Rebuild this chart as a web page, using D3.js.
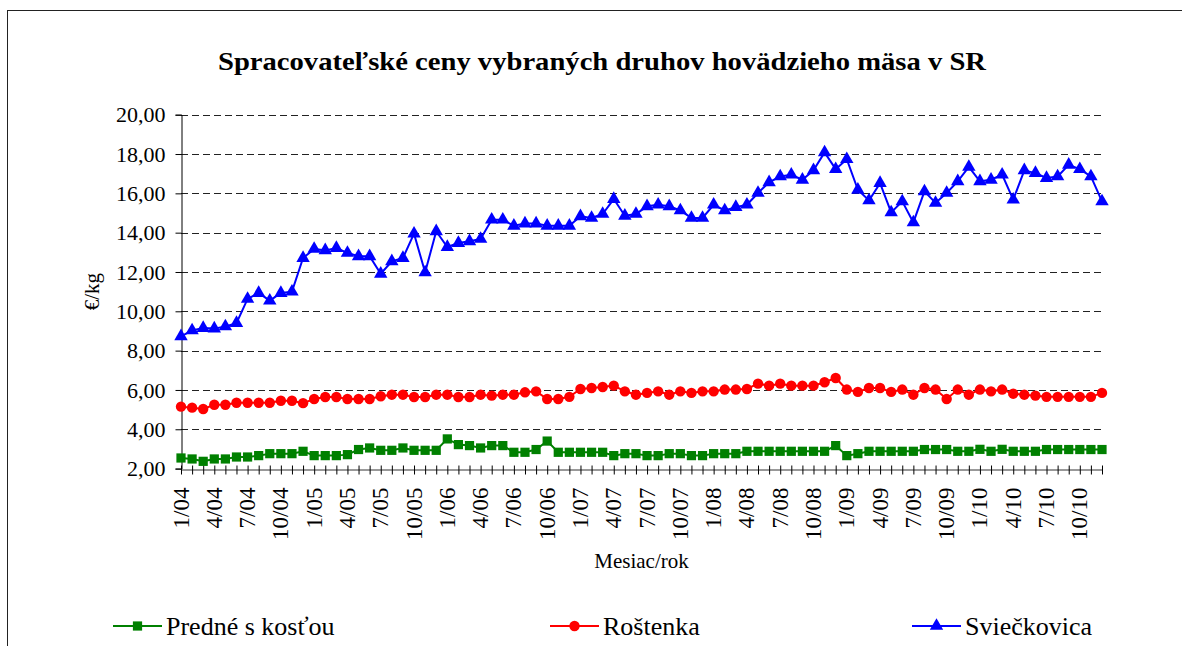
<!DOCTYPE html>
<html>
<head>
<meta charset="utf-8">
<script src="https://cdn.jsdelivr.net/npm/d3@7"></script>
<style>
  body { margin: 0; background: #fff; }
  svg text { font-family: "Liberation Serif", "Times New Roman", serif; fill: #000; }
</style>
</head>
<body>
<svg id="chart" width="1182" height="646"></svg>
<script>
// category keys: month/year, 1/04 .. 12/10
const years = ["04", "05", "06", "07", "08", "09", "10"];
const categories = [];
years.forEach(y => { for (let m = 1; m <= 12; m++) categories.push(m + "/" + y); });

// only every third month gets a label
const tickLabels = categories.filter((c, i) => i % 3 === 0);

const yTicks = [2, 4, 6, 8, 10, 12, 14, 16, 18, 20];

const predne = [
  2.54, 2.49, 2.37, 2.49, 2.49, 2.59, 2.59, 2.66, 2.76, 2.76, 2.76, 2.88,
  2.66, 2.66, 2.66, 2.71, 2.97, 3.05, 2.93, 2.93, 3.05, 2.93, 2.93, 2.93,
  3.51, 3.22, 3.17, 3.05, 3.17, 3.17, 2.83, 2.83, 2.97, 3.40, 2.83, 2.83,
  2.83, 2.83, 2.83, 2.66, 2.76, 2.76, 2.66, 2.66, 2.76, 2.76, 2.66, 2.66,
  2.76, 2.76, 2.76, 2.88, 2.88, 2.88, 2.88, 2.88, 2.88, 2.88, 2.88, 3.17,
  2.66, 2.76, 2.88, 2.88, 2.88, 2.88, 2.88, 2.97, 2.97, 2.97, 2.88, 2.88,
  2.98, 2.88, 2.98, 2.88, 2.88, 2.88, 2.97, 2.97, 2.97, 2.97, 2.97, 2.97
];

const rostenka = [
  5.15, 5.10, 5.03, 5.25, 5.25, 5.35, 5.35, 5.35, 5.35, 5.45, 5.45, 5.33,
  5.54, 5.64, 5.64, 5.54, 5.54, 5.54, 5.68, 5.76, 5.76, 5.64, 5.64, 5.76,
  5.76, 5.64, 5.64, 5.76, 5.71, 5.76, 5.76, 5.88, 5.93, 5.54, 5.54, 5.65,
  6.05, 6.10, 6.15, 6.22, 5.93, 5.76, 5.85, 5.93, 5.76, 5.93, 5.85, 5.93,
  5.93, 6.02, 6.02, 6.05, 6.32, 6.22, 6.32, 6.22, 6.22, 6.22, 6.39, 6.61,
  6.02, 5.90, 6.10, 6.10, 5.90, 6.02, 5.76, 6.10, 6.02, 5.54, 6.02, 5.76,
  6.02, 5.93, 6.02, 5.81, 5.76, 5.71, 5.65, 5.65, 5.65, 5.65, 5.65, 5.85
];

const svieckovica = [
  8.73, 9.03, 9.15, 9.12, 9.23, 9.40, 10.63, 10.93, 10.54, 10.93, 11.00, 12.71,
  13.17, 13.10, 13.22, 12.97, 12.80, 12.80, 11.91, 12.54, 12.71, 13.95, 11.98, 14.07,
  13.27, 13.47, 13.56, 13.68, 14.66, 14.66, 14.35, 14.46, 14.46, 14.35, 14.35, 14.35,
  14.83, 14.75, 14.95, 15.71, 14.86, 14.95, 15.34, 15.42, 15.34, 15.13, 14.75, 14.75,
  15.42, 15.13, 15.30, 15.42, 16.02, 16.56, 16.86, 16.95, 16.69, 17.17, 18.08, 17.23,
  17.74, 16.18, 15.64, 16.52, 15.03, 15.59, 14.52, 16.10, 15.51, 16.02, 16.61, 17.34,
  16.61, 16.69, 16.95, 15.68, 17.17, 17.03, 16.78, 16.86, 17.45, 17.23, 16.86, 15.59
];

const series = [
  { name: "Predné s kosťou", values: predne, color: "#008000", symbol: d3.symbolSquare, size: 85 },
  { name: "Roštenka", values: rostenka, color: "#ff0000", symbol: d3.symbolCircle, size: 85 },
  { name: "Sviečkovica", values: svieckovica, color: "#0000ff", symbol: d3.symbolTriangle, size: 78 }
];

const svg = d3.select("#chart");

// outer chart frame (right and bottom edges fall outside the picture)
svg.append("rect")
  .attr("x", 7.5).attr("y", 10.5)
  .attr("width", 1200).attr("height", 700)
  .attr("fill", "none").attr("stroke", "#222").attr("stroke-width", 1);

const plot = { left: 181, right: 1102, top: 114.7, bottom: 468.6 };

const x = d3.scalePoint().domain(categories).range([plot.left, plot.right]);
const y = d3.scaleLinear().domain([2, 20]).range([plot.bottom, plot.top]);

const fmt = v => d3.format(".2f")(v).replace(".", ",");

// title
svg.append("text")
  .attr("x", 602).attr("y", 70)
  .attr("text-anchor", "middle")
  .style("font-size", "26px").style("font-weight", "bold")
  .attr("textLength", 768).attr("lengthAdjust", "spacingAndGlyphs")
  .text("Spracovateľské ceny vybraných druhov hovädzieho mäsa v SR");

// dashed gridlines
svg.append("g")
  .selectAll("line")
  .data(yTicks.filter(d => d > 2))
  .join("line")
  .attr("x1", plot.left).attr("x2", plot.right)
  .attr("y1", d => Math.round(y(d)) + 0.5).attr("y2", d => Math.round(y(d)) + 0.5)
  .attr("stroke", "#222").attr("stroke-width", 1)
  .attr("stroke-dasharray", "7,4");

// y axis
const yAxis = svg.append("g")
  .attr("transform", `translate(${plot.left + 0.5},0)`)
  .call(d3.axisLeft(y).tickValues(yTicks).tickFormat(fmt).tickSize(6).tickPadding(10));
yAxis.select(".domain").attr("stroke", "#000");
yAxis.selectAll(".tick line").attr("stroke", "#000");
yAxis.selectAll(".tick text")
  .style("font-size", "22px").style("font-family", "Liberation Serif, serif");

// x axis: small ticks crossing the line at every month
const xAxis = svg.append("g")
  .attr("transform", `translate(0,${Math.round(plot.bottom) + 0.5})`)
  .call(d3.axisBottom(x).tickSizeInner(5).tickSizeOuter(0).tickFormat(""));
xAxis.select(".domain").attr("stroke", "#333");
xAxis.selectAll(".tick line").attr("stroke", "#000").attr("y1", -4);

xAxis.selectAll(".label")
  .data(tickLabels)
  .join("text")
  .attr("class", "label")
  .attr("transform", d => `translate(${x(d) + 7.5},18) rotate(-90)`)
  .attr("text-anchor", "end")
  .style("font-size", "23px")
  .text(d => d);

// axis titles
svg.append("text")
  .attr("transform", `translate(99,${(plot.top + plot.bottom) / 2}) rotate(-90)`)
  .attr("text-anchor", "middle")
  .style("font-size", "21px")
  .text("€/kg");

svg.append("text")
  .attr("x", (plot.left + plot.right) / 2).attr("y", 568)
  .attr("text-anchor", "middle")
  .style("font-size", "21px")
  .text("Mesiac/rok");

// series lines and markers
const line = d3.line().x((d, i) => x(categories[i])).y(d => y(d));

series.forEach(s => {
  svg.append("path")
    .datum(s.values)
    .attr("d", line)
    .attr("fill", "none")
    .attr("stroke", s.color)
    .attr("stroke-width", 2);

  svg.append("g")
    .selectAll("path")
    .data(s.values)
    .join("path")
    .attr("transform", (d, i) => `translate(${x(categories[i])},${y(d)})`)
    .attr("d", d3.symbol().type(s.symbol).size(s.size))
    .attr("fill", s.color);
});

// legend
const legendX = [113, 550, 912];
const legend = svg.append("g")
  .selectAll("g")
  .data(series)
  .join("g")
  .attr("transform", (d, i) => `translate(${legendX[i]},626)`);

legend.append("line")
  .attr("x1", 0).attr("x2", 49)
  .attr("stroke", d => d.color).attr("stroke-width", 2);
legend.append("path")
  .attr("transform", "translate(24.5,0)")
  .attr("d", d => d3.symbol().type(d.symbol).size(d.size)())
  .attr("fill", d => d.color);
legend.append("text")
  .attr("x", 53).attr("y", 9)
  .style("font-size", "26px")
  .text(d => d.name);
</script>
</body>
</html>
